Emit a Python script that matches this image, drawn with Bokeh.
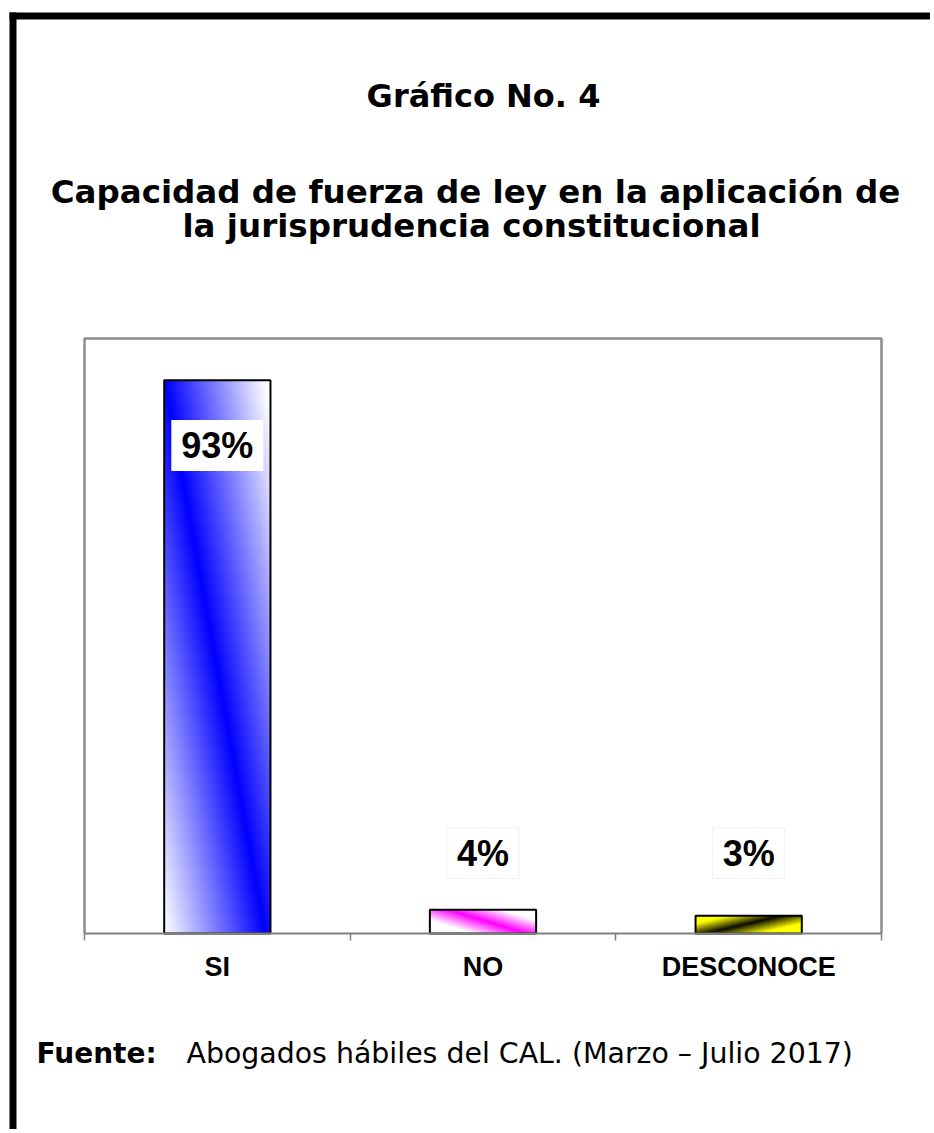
import numpy as np
from bokeh.plotting import figure
from bokeh.models import Range1d, LinearAxis, FixedTicker, Label, BoxAnnotation
from bokeh.embed import file_html
from bokeh.resources import INLINE

# ---- data ----
categories = ["SI", "NO", "DESCONOCE"]
values = [93, 4, 3]
value_labels = ["93%", "4%", "3%"]

title_main = "Gráfico No. 4"
title_line1 = "Capacidad de fuerza de ley en la aplicación de"
title_line2 = "la jurisprudencia constitucional"
source_bold = "Fuente:"
source_text = "Abogados hábiles del CAL. (Marzo – Julio 2017)"

# ---- layout (pixels) ----
W, H = 930, 1129
BOX_L, BOX_R, BOX_T, BOX_B = 84, 881, 338, 933
YMAX = 100
BAR_W = 0.4

# ---- styles: (band colour, edge colour, band u at top, band u at bottom, fade width) ----
bar_styles = [
    ((0, 0, 255), (255, 255, 255), 0.0, 0.95, 0.95),
    ((255, 0, 255), (255, 255, 255), 0.15, 0.9, 0.5),
    ((10, 10, 0), (255, 255, 0), 0.85, 0.1, 0.5),
]


def gradient(band, edge, u_top, u_bottom, fade, rows=300, cols=120):
    v = np.linspace(0, 1, rows)[:, None]
    u = np.linspace(0, 1, cols)[None, :]
    uline = u_bottom + (u_top - u_bottom) * v
    t = np.clip(np.abs(u - uline) / fade, 0, 1)
    img = np.empty((rows, cols, 4), dtype=np.uint8)
    for k in range(3):
        img[..., k] = np.round(band[k] + (edge[k] - band[k]) * t).astype(np.uint8)
    img[..., 3] = 255
    return img.view(np.uint32).reshape(rows, cols)


n = len(categories)
centers = [i + 0.5 for i in range(n)]
bounds = [float(i) for i in range(n + 1)]

kx = (BOX_R - BOX_L) / n
ky = (BOX_B - BOX_T) / YMAX
p = figure(width=W, height=H,
           x_range=Range1d(-BOX_L / kx, n + (W - BOX_R) / kx),
           y_range=Range1d(-(H - BOX_B) / ky, YMAX + BOX_T / ky),
           output_backend="svg", toolbar_location=None,
           x_axis_location=None, y_axis_location=None,
           min_border=0, background_fill_color="white", border_fill_color="white")
p.grid.grid_line_color = None
p.outline_line_color = None

# plot-area box (left, top, right sides)
p.line(x=[0, 0, n, n], y=[0, YMAX, YMAX, 0], line_color="#8c8c8c", line_width=2.5)

# gradient-filled bars
imgs = [gradient(*s) for s in bar_styles]
p.image_rgba(image=imgs, x=[c - BAR_W / 2 for c in centers], y=[0] * n,
             dw=[BAR_W] * n, dh=values)
p.vbar(x=centers, top=values, width=BAR_W, bottom=0, fill_color=None,
       line_color="black", line_width=2)

# value labels
for c, v, t in zip(centers, values, value_labels):
    ly = v - 11 if v > 50 else 13.5
    p.add_layout(Label(x=c, y=ly, text=t, text_align="center", text_baseline="middle",
                       text_font="Liberation Sans", text_font_style="bold",
                       text_font_size="36px", text_color="black",
                       background_fill_color="white",
                       border_line_color=None if v > 50 else "#f0f0f0",
                       padding=dict(left=10, right=10, top=5, bottom=5)))

xaxis = LinearAxis(fixed_location=0, bounds=(0, n),
                   ticker=FixedTicker(ticks=centers, minor_ticks=bounds),
                   major_label_overrides={c: cat for c, cat in zip(centers, categories)},
                   axis_line_color="#808080", axis_line_width=2,
                   major_tick_line_color=None, major_tick_out=0, major_tick_in=0,
                   minor_tick_line_color="#808080", minor_tick_line_width=1.5,
                   minor_tick_out=7, minor_tick_in=0,
                   major_label_text_font="Liberation Sans", major_label_text_font_style="bold",
                   major_label_text_font_size="27px", major_label_text_color="black",
                   major_label_standoff=11)
p.add_layout(xaxis, "below")


def add_text(text, x, y_top, size, bold=True, align="center"):
    p.add_layout(Label(x=x, y=H - y_top, x_units="screen", y_units="screen", text=text,
                       text_align=align, text_baseline="alphabetic",
                       text_font="DejaVu Sans", text_font_style="bold" if bold else "normal",
                       text_font_size=size, text_color="black"))


add_text(title_main, 483, 95, "32px")
add_text(title_line1, 475, 191, "32.5px")
add_text(title_line2, 471, 225, "32.5px")
add_text(source_bold, 36, 1053, "28px", bold=True, align="left")
add_text(source_text, 186, 1053, "28.4px", bold=False, align="left")

# outer black border (left and top)
for l, r, b, t in [(9, 16, 0, H - 12), (9, W, H - 19, H - 12)]:
    p.add_layout(BoxAnnotation(left=l, right=r, bottom=b, top=t,
                               left_units="screen", right_units="screen",
                               bottom_units="screen", top_units="screen",
                               fill_color="black", fill_alpha=1, line_color=None))

open("out.html", "w").write(file_html(p, INLINE))
